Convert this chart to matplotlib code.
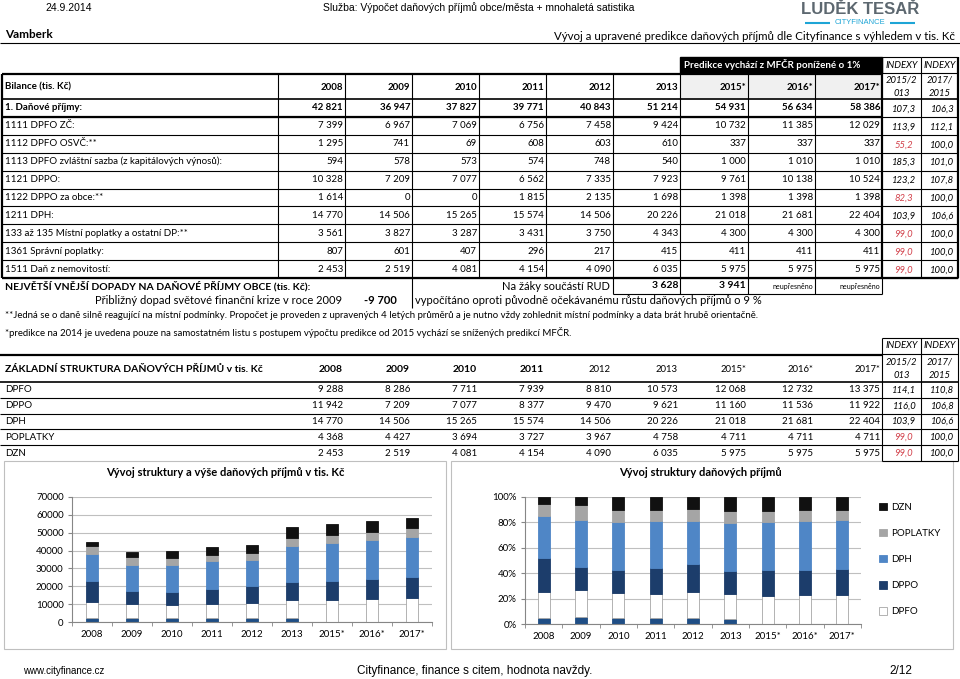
import numpy as np
import matplotlib
matplotlib.use('Agg')
import matplotlib.pyplot as plt
from matplotlib.patches import Rectangle
from matplotlib.ticker import PercentFormatter, FixedLocator

# data
roky = ['2008', '2009', '2010', '2011', '2012', '2013', '2015*', '2016*', '2017*']

bil_labels = ['1. Daňové příjmy:', '1111 DPFO ZČ:', '1112 DPFO OSVČ:**',
              '1113 DPFO zvláštní sazba (z kapitálových výnosů):', '1121 DPPO:',
              '1122 DPPO za obce:**', '1211 DPH:', '133 až 135 Místní poplatky a ostatní DP:**',
              '1361 Správní poplatky:', '1511 Daň z nemovitostí:']
dane_celkem = [42821, 36947, 37827, 39771, 40843, 51214, 54931, 56634, 58386]
dpfo_zc = [7399, 6967, 7069, 6756, 7458, 9424, 10732, 11385, 12029]
dpfo_osvc = [1295, 741, 69, 608, 603, 610, 337, 337, 337]
dpfo_zvl = [594, 578, 573, 574, 748, 540, 1000, 1010, 1010]
dppo = [10328, 7209, 7077, 6562, 7335, 7923, 9761, 10138, 10524]
dppo_obce = [1614, 0, 0, 1815, 2135, 1698, 1398, 1398, 1398]
dph = [14770, 14506, 15265, 15574, 14506, 20226, 21018, 21681, 22404]
mistni_popl = [3561, 3827, 3287, 3431, 3750, 4343, 4300, 4300, 4300]
spravni_popl = [807, 601, 407, 296, 217, 415, 411, 411, 411]
dan_nemov = [2453, 2519, 4081, 4154, 4090, 6035, 5975, 5975, 5975]
bil_idx1 = [107.3, 113.9, 55.2, 185.3, 123.2, 82.3, 103.9, 99.0, 99.0, 99.0]
bil_idx2 = [106.3, 112.1, 100.0, 101.0, 107.8, 100.0, 106.6, 100.0, 100.0, 100.0]

rud_zaci = [3628, 3941]
dopad_krize = -9700

str_labels = ['DPFO', 'DPPO', 'DPH', 'POPLATKY', 'DZN']
str_dpfo = [9288, 8286, 7711, 7939, 8810, 10573, 12068, 12732, 13375]
str_dppo = [11942, 7209, 7077, 8377, 9470, 9621, 11160, 11536, 11922]
str_dph = [14770, 14506, 15265, 15574, 14506, 20226, 21018, 21681, 22404]
str_poplatky = [4368, 4427, 3694, 3727, 3967, 4758, 4711, 4711, 4711]
str_dzn = [2453, 2519, 4081, 4154, 4090, 6035, 5975, 5975, 5975]
str_idx1 = [114.1, 116.0, 103.9, 99.0, 99.0]
str_idx2 = [110.8, 106.8, 106.6, 100.0, 100.0]

# small bottom segment drawn in both charts, without legend entry
graf_zbytek = [2000, 2000, 2000, 2000, 2000, 2000, 0, 0, 0]

CAL = ['Lato', 'DejaVu Sans']
ARI = ['Liberation Sans', 'DejaVu Sans']
RED = '#d2404a'


def cislo(v):
    return f'{v:,}'.replace(',', ' ')


def index(v):
    return f'{v:.1f}'.replace('.', ',')


fig = plt.figure(figsize=(9.6, 6.79), dpi=100)
bg = fig.add_axes([0, 0, 1, 1])
bg.set_xlim(0, 960)
bg.set_ylim(679, 0)
bg.axis('off')


def t(x, y, s, size=7, family=CAL, **kw):
    bg.text(x, y, s, va='center', fontsize=size, family=family, **kw)


def hl(y, x0, x1, lw=0.8, color='k'):
    bg.plot([x0, x1], [y, y], color=color, lw=lw, solid_capstyle='butt')


def vl(x, y0, y1, lw=0.8, color='k'):
    bg.plot([x, x], [y0, y1], color=color, lw=lw, solid_capstyle='butt')


# page header
t(45, 8, '24.9.2014', size=7.5, family=ARI)
t(323, 8, 'Služba: Výpočet daňových příjmů obce/města + mnohaletá satistika', size=7.5, family=ARI)
t(860, 10, 'LUDĚK TESAŘ', size=12, family=ARI, weight='bold', color='#5d6870', ha='center')
t(860, 23, 'CITYFINANCE', size=5.5, family=ARI, color='#1ea5d6', ha='center')
hl(23, 805, 830, lw=1.5, color='#1ea5d6')
hl(23, 890, 915, lw=1.5, color='#1ea5d6')
t(5, 35, 'Vamberk', size=8.5, family=CAL, weight='bold')
t(955, 36, 'Vývoj a upravené predikce daňových příjmů dle Cityfinance s výhledem v tis. Kč',
  size=8.3, ha='right')
hl(43, 0, 960, lw=0.8)

# main table
edges = [2, 278, 345, 412, 479, 546, 613, 680, 748, 815, 882, 921, 958]
bg.add_patch(Rectangle((680, 57), 202, 16, facecolor='black', edgecolor='black'))
t(684, 65, 'Predikce vychází z MFČR ponížené o 1%', size=7, color='white', weight='bold')
bg.add_patch(Rectangle((680, 74), 202, 26, facecolor='#f0f0f0', edgecolor='none'))
for i in (10, 11):
    t((edges[i] + edges[i + 1]) / 2, 65, 'INDEXY', size=6.8, style='italic', ha='center')
    hl(57, edges[i], edges[i + 1])
    hl(73, edges[i], edges[i + 1])
t(901.5, 80, '2015/2', size=6.8, style='italic', ha='center')
t(901.5, 93, '013', size=6.8, style='italic', ha='center')
t(939.5, 80, '2017/', size=6.8, style='italic', ha='center')
t(939.5, 93, '2015', size=6.8, style='italic', ha='center')

t(5, 87, 'Bilance (tis. Kč)', weight='bold')
for j, r in enumerate(roky):
    t(edges[j + 2] - 2, 87, r, weight='bold', ha='right')

bil_rows = [dane_celkem, dpfo_zc, dpfo_osvc, dpfo_zvl, dppo, dppo_obce, dph,
            mistni_popl, spravni_popl, dan_nemov]
row_top = 99
row_h = 17.9
for i, (lab, vals) in enumerate(zip(bil_labels, bil_rows)):
    yc = row_top + row_h * (i + 0.5)
    w = 'bold' if i == 0 else 'normal'
    t(5, yc, lab, weight=w)
    for j, v in enumerate(vals):
        t(edges[j + 2] - 2, yc, cislo(v), weight=w, ha='right')
    for k, iv in enumerate((bil_idx1[i], bil_idx2[i])):
        t((edges[10 + k] + edges[11 + k]) / 2 + 2, yc + 1, index(iv), size=6.8, style='italic',
          ha='center', color=RED if iv < 100 else 'black')
    hl(row_top + row_h * (i + 1), edges[0], edges[-1], lw=0.8)
bottom = row_top + row_h * len(bil_rows)
hl(74, edges[0], edges[10], lw=1.6)
hl(row_top, edges[0], edges[-1], lw=1.2)
hl(row_top + row_h, edges[0], edges[10], lw=1.6)
hl(bottom, edges[0], edges[-1], lw=1.6)
for k, x in enumerate(edges):
    top = 57 if k >= 10 else 74
    vl(x, top, bottom, lw=1.6 if k in (0, 10, 12) else 0.8)

# below table
t(5, 286, 'NEJVĚTŠÍ VNĚJŠÍ DOPADY NA DAŇOVÉ PŘÍJMY OBCE (tis. Kč):', size=7.5, weight='bold')
t(610, 286, 'Na žáky součástí RUD', size=8, ha='right')
for k, v in enumerate(rud_zaci):
    t(edges[7 + k] - 2, 286, cislo(v), size=7.5, weight='bold', ha='right')
for k in (9, 10):
    t(edges[k] - 2, 286, 'neupřesněno', size=5, ha='right')
hl(294, 613, 882, lw=0.8)
for x in edges[6:11]:
    vl(x, bottom, 294)
vl(412, bottom, 308)
t(342, 301, 'Přibližný dopad světové finanční krize v roce 2009', size=8, ha='right')
t(380, 301, cislo(dopad_krize), size=8, weight='bold', ha='center')
t(415, 301, 'vypočítáno oproti původně očekávanému růstu daňových příjmů o 9 %', size=8)
t(5, 316, '**Jedná se o daně silně reagující na místní podmínky. Propočet je proveden z upravených '
  '4 letých průměrů a je nutno vždy zohlednit místní podmínky a data brát hrubě orientačně.', size=6.9)
t(5, 332, '*predikce na 2014 je uvedena pouze na samostatném listu s postupem výpočtu predikce '
  'od 2015 vychází se snížených predikcí MFČR.', size=6.9)

# structure table
for i in (10, 11):
    t((edges[i] + edges[i + 1]) / 2, 345, 'INDEXY', size=6.8, style='italic', ha='center')
t(901.5, 362, '2015/2', size=6.8, style='italic', ha='center')
t(901.5, 376, '013', size=6.8, style='italic', ha='center')
t(939.5, 362, '2017/', size=6.8, style='italic', ha='center')
t(939.5, 376, '2015', size=6.8, style='italic', ha='center')
t(5, 370, 'ZÁKLADNÍ STRUKTURA DAŇOVÝCH PŘÍJMŮ v tis. Kč', size=7.5, weight='bold')
for j, r in enumerate(roky):
    t(edges[j + 2] - 2, 370, r, size=7.5 if j < 4 else 6.8,
      weight='bold' if j < 4 else 'normal', ha='right')
hl(355, 0, 882, lw=1.6)
hl(354, 882, 958, lw=0.8)
str_rows = [str_dpfo, str_dppo, str_dph, str_poplatky, str_dzn]
s_top = 382
s_h = 15.8
hl(s_top, 0, 958, lw=1.2)
for i, (lab, vals) in enumerate(zip(str_labels, str_rows)):
    yc = s_top + s_h * (i + 0.5)
    t(5, yc, lab)
    for j, v in enumerate(vals):
        t(edges[j + 2] - 2, yc, cislo(v), ha='right')
    for k, iv in enumerate((str_idx1[i], str_idx2[i])):
        t((edges[10 + k] + edges[11 + k]) / 2 + 2, yc, index(iv), size=6.8, style='italic',
          ha='center', color=RED if iv < 100 else 'black')
    hl(s_top + s_h * (i + 1), 0 if i < 4 else 882, 958, lw=0.8)
s_bottom = s_top + s_h * len(str_rows)
for x in edges[10:]:
    vl(x, 338, s_bottom)
hl(338, 882, 958)

# chart frames
bg.add_patch(Rectangle((4, 461), 442, 188, facecolor='white', edgecolor='#bfbfbf', lw=0.8))
bg.add_patch(Rectangle((451, 461), 502, 188, facecolor='white', edgecolor='#bfbfbf', lw=0.8))
t(225, 472, 'Vývoj struktury a výše daňových příjmů v tis. Kč', size=8, weight='bold', ha='center')
t(700, 472, 'Vývoj struktury daňových příjmů', size=8, weight='bold', ha='center')
t(23, 671, 'www.cityfinance.cz', size=7, family=ARI)
t(475, 671, 'Cityfinance, finance s citem, hodnota navždy.', size=8.5, family=ARI, ha='center')
t(912, 671, '2/12', size=8.5, family=ARI, ha='right')


def px_axes(x0, x1, ytop, ybot):
    return fig.add_axes([x0 / 960, 1 - ybot / 679, (x1 - x0) / 960, (ybot - ytop) / 679])


series = [(graf_zbytek, '_zbytek', '#1f4e85', '#1f4e85'),
          (str_dpfo, 'DPFO', 'white', '#a6a6a6'),
          (str_dppo, 'DPPO', '#1c3d6b', '#1c3d6b'),
          (str_dph, 'DPH', '#4f86c6', '#4f86c6'),
          (str_poplatky, 'POPLATKY', '#a5a5a5', '#a5a5a5'),
          (str_dzn, 'DZN', '#111111', '#111111')]
x = np.arange(len(roky))
totals = np.sum([np.array(s[0]) for s in series], axis=0)


def style_axes(ax):
    ax.set_facecolor('none')
    ax.set_xlim(-0.5, len(roky) - 0.5)
    ax.set_xticks(x)
    ax.set_xticklabels(roky)
    ax.xaxis.set_minor_locator(FixedLocator(np.arange(-0.5, len(roky), 1)))
    ax.tick_params(axis='x', which='major', length=0, pad=6)
    ax.tick_params(axis='x', which='minor', length=3, color='#868686')
    ax.tick_params(axis='y', length=3, color='#868686', pad=3)
    for lab in ax.get_xticklabels() + ax.get_yticklabels():
        lab.set_fontsize(7)
        lab.set_family(CAL)
    for s in ('top', 'right'):
        ax.spines[s].set_visible(False)
    for s in ('left', 'bottom'):
        ax.spines[s].set_color('#868686')
        ax.spines[s].set_linewidth(0.8)
    ax.grid(axis='y', color='#bfbfbf', lw=0.8)
    ax.set_axisbelow(True)


ax1 = px_axes(72, 432, 497, 622)
base = np.zeros(len(roky))
for vals, lab, fc, ec in series:
    ax1.bar(x, vals, 0.32, bottom=base, color=fc, edgecolor=ec, lw=0.6, label=lab)
    base += np.array(vals)
ax1.set_ylim(0, 70000)
ax1.set_yticks(np.arange(0, 70001, 10000))
style_axes(ax1)

ax2 = px_axes(525, 861, 497, 624)
base = np.zeros(len(roky))
for vals, lab, fc, ec in series:
    share = np.array(vals) / totals
    ax2.bar(x, share, 0.32, bottom=base, color=fc, edgecolor=ec, lw=0.6, label=lab)
    base += share
ax2.set_ylim(0, 1)
ax2.set_yticks(np.arange(0, 1.01, 0.2))
ax2.yaxis.set_major_formatter(PercentFormatter(1, decimals=0))
style_axes(ax2)
h, l = ax2.get_legend_handles_labels()
leg = fig.legend(h[::-1], l[::-1], loc='upper left', bbox_to_anchor=(870 / 960, 1 - 494 / 679),
                 frameon=False, prop={'family': CAL, 'size': 7}, handlelength=0.8,
                 handleheight=0.8, labelspacing=1.75, handletextpad=0.5)

fig.savefig('out.png', dpi=100)
